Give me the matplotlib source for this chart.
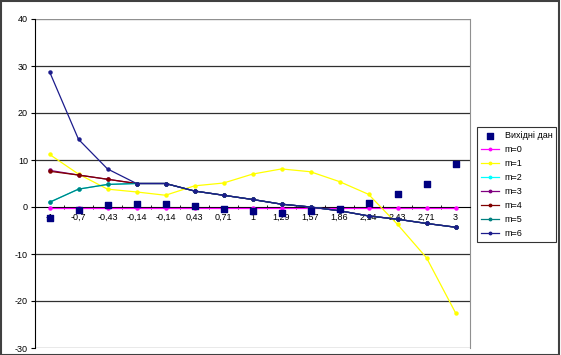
import matplotlib
matplotlib.use("Agg")
import matplotlib.pyplot as plt
import numpy as np
from matplotlib.patches import Rectangle

plt.rcParams['font.family'] = ['Liberation Sans', 'DejaVu Sans']

# x categories as printed on the axis
categories = ["-1", "-0,7", "-0,43", "-0,14", "-0,14", "0,43", "0,71", "1",
              "1,29", "1,57", "1,86", "2,14", "2,43", "2,71", "3"]

source_data = [-2.3, -0.7, 0.4, 0.6, 0.7, 0.2, -0.4, -0.9,
               -1.2, -0.9, -0.4, 0.8, 2.8, 5.0, 9.1]
m0 = [-0.3] * 15
m1 = [11.2, 7.0, 3.8, 3.2, 2.5, 4.5, 5.1, 7.0,
      8.1, 7.5, 5.4, 2.7, -3.7, -10.8, -22.5]
m2 = [1.0, 3.8, 4.8, 5.0, 5.0, 3.4, 2.5, 1.6,
      0.6, 0.0, -0.8, -1.9, -2.6, -3.5, -4.3]
m3 = [7.8, 6.8, 5.9, 5.0, 5.0, 3.4, 2.5, 1.6,
      0.6, 0.0, -0.8, -1.9, -2.6, -3.5, -4.3]
m4 = [7.6, 6.8, 5.9, 5.0, 5.0, 3.4, 2.5, 1.6,
      0.6, 0.0, -0.8, -1.9, -2.6, -3.5, -4.3]
m5 = [1.0, 3.8, 4.8, 5.0, 5.0, 3.4, 2.5, 1.6,
      0.6, 0.0, -0.8, -1.9, -2.6, -3.5, -4.3]
m6 = [28.8, 14.4, 8.1, 5.0, 5.0, 3.4, 2.5, 1.6,
      0.6, 0.0, -0.8, -1.9, -2.6, -3.5, -4.3]

series = [
    ("m=0", m0, "#ff00ff"),
    ("m=1", m1, "#ffff00"),
    ("m=2", m2, "#00ffff"),
    ("m=3", m3, "#800080"),
    ("m=4", m4, "#800000"),
    ("m=5", m5, "#008080"),
    ("m=6", m6, "#1c1c8c"),
]

fig = plt.figure(figsize=(5.61, 3.55), dpi=100)
ax = fig.add_axes([35 / 561, 7 / 355, 435 / 561, 329 / 355])

x = np.arange(len(categories))

ax.scatter(x, source_data, marker='s', s=24, color="#000080", zorder=5,
           label="Вихідні дан")
for name, vals, col in series:
    ax.plot(x, vals, color=col, lw=0.9, marker='o', ms=2.2, label=name, zorder=3)

ax.set_xlim(-0.5, len(categories) - 0.5)
ax.set_ylim(-30, 40)

# gridlines
for v in [10, 20, 30, -10, -20]:
    ax.axhline(v, color="#303030", lw=0.9, zorder=1)
ax.axhline(-30, color="#909090", lw=1.0, zorder=1)
ax.axhline(40, color="#909090", lw=1.0, zorder=1)

# axes styling
ax.spines['top'].set_visible(False)
ax.spines['right'].set_color("#909090")
ax.spines['left'].set_color("#000000")
ax.spines['bottom'].set_position(('data', 0))
ax.spines['bottom'].set_color("#000000")

ax.set_yticks(range(-30, 41, 10))
ax.set_yticklabels([str(v) for v in range(-30, 41, 10)])
ax.tick_params(axis='y', direction='out', length=3, labelsize=6.5, pad=2)

ax.set_xticks(x)
ax.set_xticklabels(categories)
ax.set_xticks(np.arange(-0.5, len(categories), 1), minor=True)
ax.tick_params(axis='x', which='major', length=0, labelsize=6.5, pad=4)
ax.tick_params(axis='x', which='minor', direction='inout', length=3)

leg = ax.legend(loc='upper left', bbox_to_anchor=((477 - 35) / 435, 1 - (127 - 19) / 329),
                fontsize=6.5, frameon=True, fancybox=False, edgecolor="#000000",
                borderpad=0.45, labelspacing=0.55, handlelength=2.0,
                handletextpad=0.6, borderaxespad=0, markerscale=0.8)
leg.get_frame().set_linewidth(0.8)

# outer chart frame
fig.patches.append(Rectangle((0.001, 0.001), 0.996, 0.996, transform=fig.transFigure,
                             fill=False, edgecolor="#404040", lw=1.5))

fig.savefig("out.png", dpi=100)
